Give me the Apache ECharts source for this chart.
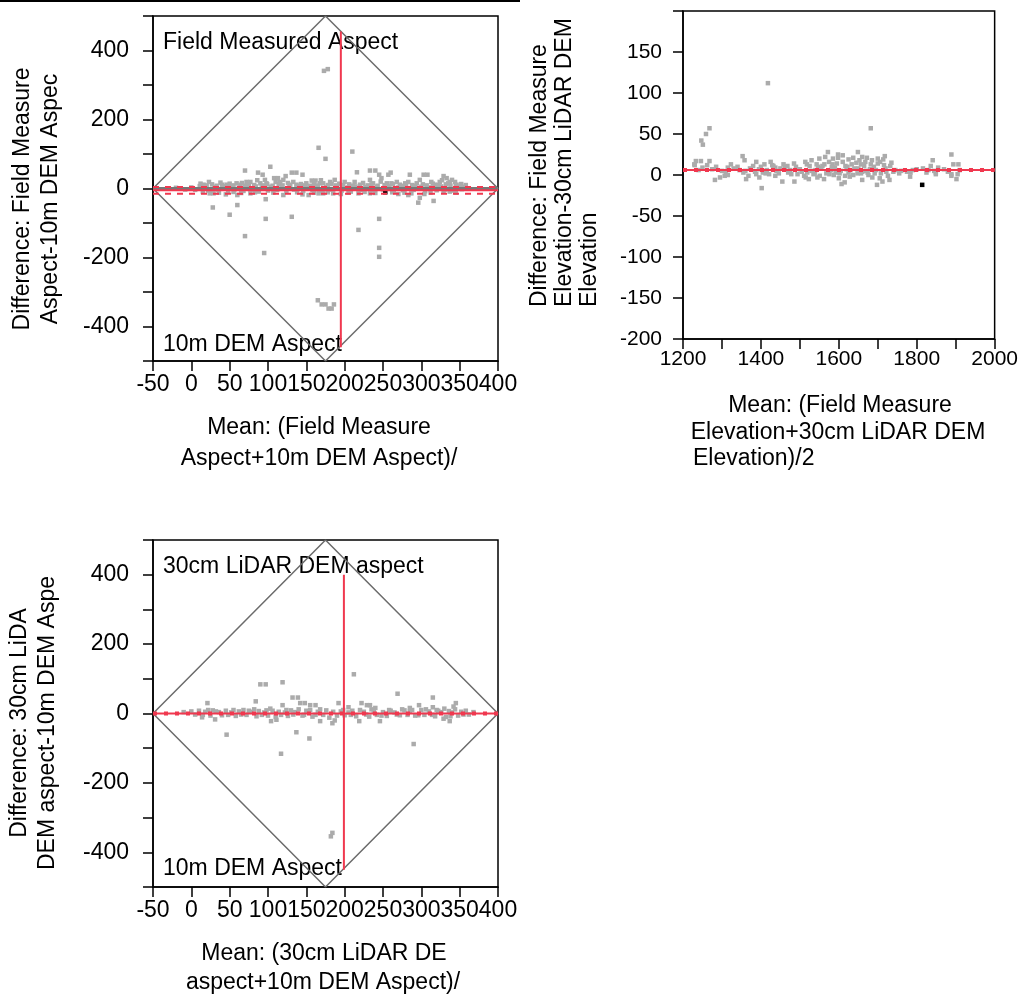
<!DOCTYPE html>
<html>
<head>
<meta charset="utf-8">
<title>Bland-Altman plots</title>
<script src="https://cdn.jsdelivr.net/npm/echarts@6/dist/echarts.min.js"></script>
<style>
    html, body { margin: 0; padding: 0; background: #fff; }
    #chart { width: 1021px; height: 999px; }
</style>
</head>
<body>
<div id="chart"></div>
<script>
    // --- data: [mean, difference] ---
    var fieldDemAspectPts = [
        [173,341],[178,346],[166,118],[175,86],[210,107],[70,52],[103,63],[216,47],[87,46],[93,40],
        [108,30],[113,30],[123,36],[131,46],[137,46],[145,40],[96,25],[98,15],[77,19],[72,19],
        [90,15],[23,19],[16,11],[11,7],[40,11],[46,11],[59,15],[64,11],[110,19],[116,19],
        [120,25],[129,11],[137,11],[150,15],[157,23],[162,23],[168,15],
        [233,52],[240,52],[245,40],[260,46],[257,40],[285,40],[303,40],[308,40],[248,30],
        [233,25],[237,15],[213,19],[200,19],[187,25],[181,19],[172,15],[255,15],[261,15],[268,19],
        [272,11],[283,19],[298,25],[294,15],[313,19],[318,11],[329,36],[333,30],[340,25],[344,19],
        [335,15],[346,11],[324,19],[355,5],[348,5],
        [24,-14],[29,-14],[28,-55],[50,-76],[60,-48],[60,-19],[77,-14],[97,-31],[97,-88],[70,-138],
        [95,-187],[131,-82],[120,-19],[153,-19],[166,-14],[218,-14],[233,-14],[185,-14],[172,-14],
        [283,-19],[287,-14],[298,-27],[296,-41],[316,-36],[329,-9],[337,-9],[218,-120],[245,-88],
        [245,-172],[245,-198],[165,-324],[170,-336],[175,-336],[179,-348],[183,-348],[186,-336],
        [0,3],[5,-4],[18,2],[22,-6],[30,4],[35,-3],[42,5],[48,-8],[52,3],[56,-5],[62,2],[68,-7],
        [74,4],[80,-3],[84,6],[88,-9],[92,3],[100,-6],[104,5],[112,-4],[118,2],[124,-8],[128,4],
        [134,-3],[140,6],[146,-7],[152,3],[158,-5],[163,6],[170,-8],[176,4],[180,-3],[190,5],
        [196,-6],[204,3],[208,-9],[214,6],[222,-4],[227,4],[236,-6],[242,5],[250,-3],[258,6],
        [264,-7],[270,3],[276,-5],[280,7],[290,-4],[300,5],[305,-8],[310,3],[320,-5],[326,6],
        [331,-3],[338,8],[342,-6],[350,3],[353,-2],[358,10],[-20,2],[-8,-3],
        [12,14],[20,9],[27,12],[33,8],[38,17],[44,6],[50,14],[55,9],[66,16],[70,8],[75,12],[82,10],
        [86,24],[94,9],[99,12],[106,8],[114,12],[119,9],[126,16],[133,19],[139,8],[143,13],[148,9],
        [155,8],[160,12],[165,9],[169,24],[178,10],[183,13],[189,9],[193,14],[198,10],[206,12],
        [211,8],[220,11],[224,16],[230,9],[235,12],[243,8],[247,20],[252,10],[263,12],[275,8],
        [279,15],[288,10],[292,8],[302,12],[307,9],[315,14],[322,10],[327,24],[332,12],[337,19],
        [345,8],[352,13],[15,-10],[36,-12],[45,-17],[55,-10],[65,-13],[83,-11],[107,-12],[138,-11],
        [145,-17],[160,-12],[178,-11],[195,-16],[205,-12],[226,-10],[240,-13],[262,-11],[270,-16],
        [278,-12],[304,-16],[312,-12],[345,-12]
    ];
    var fieldDemAspectFlag = [[253,-11]];
    var fieldDemAspectBias = -5;
    var fieldDemAspectLimits = [4, -15];
    var fieldDemAspectVertical = [195, -460, 455];

    var elevationPts = [
        [1418,112],[1268,57],[1259,50],[1247,42],[1251,37],[1682,57],[1233,17],[1246,17],[1230,12],
        [1268,17],[1353,23],[1358,18],[1572,28],[1598,25],[1598,21],[1649,28],[1672,21],[1718,23],
        [1714,19],[1706,16],[1889,25],[1841,18],[1637,21],[1229,13],[1262,12],[1323,13],[1315,9],
        [1388,16],[1380,11],[1409,13],[1425,16],[1429,12],[1437,9],[1458,13],[1462,9],[1514,16],
        [1518,13],[1543,13],[1547,10],[1563,13],[1575,16],[1584,13],[1617,11],[1633,13],[1645,15],
        [1657,13],[1665,11],[1682,13],[1690,10],[1732,11],[1735,15],[1784,3],[1816,8],[1836,11],
        [1845,5],[1849,3],[1907,13],[1894,13],[1849,1],[1889,1],[1905,1],
        [1402,-16],[1282,-6],[1295,-3],[1307,-1],[1315,0],[1362,-5],[1368,-1],[1455,-8],[1486,-8],
        [1523,-5],[1562,-5],[1607,-11],[1615,-9],[1698,-12],[1712,-8],[1686,-3],[1726,-1],[1783,-2],
        [1902,-5],[1889,-1],[1388,1],[1405,3],[1421,1],[1437,-1],[1470,3],[1494,1],[1511,-1],
        [1519,3],[1535,1],[1551,-1],[1576,1],[1592,3],[1616,-1],[1625,3],[1637,0],[1657,2],
        [1674,3],[1396,-3],[1360,5],
        [1240,6],[1275,7],[1300,5],[1330,8],[1345,6],[1395,7],[1415,6],[1440,5],[1450,8],[1475,6],
        [1500,7],[1530,5],[1555,8],[1580,6],[1590,9],[1605,5],[1620,7],[1630,6],[1650,8],[1670,5],
        [1680,7],[1695,6],[1720,8],[1745,6],[1760,5],[1800,7],[1830,6],[1870,7],[1910,6],
        [1250,9],[1285,10],[1310,4],[1340,10],[1355,3],[1372,8],[1385,4],[1400,10],[1412,2],[1432,11],
        [1446,2],[1468,11],[1478,1],[1490,10],[1505,4],[1525,11],[1538,2],[1558,11],[1568,2],[1582,10],
        [1587,0],[1595,14],[1602,2],[1610,16],[1622,10],[1628,-2],[1640,8],[1648,2],[1653,18],[1660,4],
        [1668,16],[1676,0],[1685,18],[1692,2],[1700,14],[1708,2],[1716,12],[1722,4],[1740,4],[1755,2],
        [1775,4],[1790,6],[1825,3],[1855,9],[1880,4],[1485,14],[1530,18],[1550,20],[1610,24],[1625,19],
        [1660,22],[1700,20],[1585,20],[1565,22],[1540,6],[1515,-3],[1545,-3],[1600,-4],[1660,-6],
        [1705,-4],[1730,-6]
    ];
    var elevationFlag = [[1814,-12]];
    var elevationBias = 6;

    var lidarDemAspectPts = [
        [212,113],[90,84],[97,84],[119,90],[132,46],[139,46],[84,35],[269,57],[315,46],[21,30],
        [119,24],[142,30],[148,30],[155,24],[162,24],[192,30],[222,30],[229,24],[233,24],[297,24],
        [345,30],
        [46,-61],[137,-54],[154,-72],[117,-116],[290,-88],[104,-22],[111,-18],[184,-28],[187,-20],
        [168,-22],[14,-11],[31,-17],[219,-22],[246,-22],[337,-22],[329,-15],[182,-354],[184,-344],
        [-10,4],[5,-3],[10,8],[18,5],[25,-6],[28,9],[36,4],[40,-5],[45,8],[52,3],[58,-7],[62,6],
        [68,10],[72,-4],[78,5],[85,-8],[88,7],[95,3],[100,-6],[106,8],[110,-10],[114,5],[122,3],
        [126,-7],[130,9],[135,4],[145,-6],[150,8],[158,-9],[165,5],[172,-4],[176,9],[180,-12],
        [195,6],[200,-5],[205,3],[210,8],[215,-8],[225,5],[232,-9],[238,7],[242,-4],[250,4],
        [255,-7],[260,8],[265,3],[272,-5],[278,9],[285,5],[292,-6],[300,10],[304,-4],[310,6],
        [318,-8],[322,8],[326,4],[332,-10],[336,7],[340,3],[348,-6],[352,5],[358,8],[362,-3],[368,4],
        [0,6],[15,-4],[22,10],[32,6],[48,-4],[55,10],[65,-3],[75,8],[82,12],[92,-4],[98,9],[103,14],
        [117,-4],[124,10],[133,-3],[140,12],[147,-4],[155,10],[162,-4],[168,12],[185,5],[190,-6],
        [198,10],[208,-4],[220,10],[228,-3],[235,12],[248,-6],[258,10],[268,-3],[275,12],[282,-4],
        [288,10],[296,-5],[306,12],[314,-4],[320,10],[330,14],[338,-8],[344,12],[355,-3],[342,20],
        [315,18],[285,16],[240,16],[205,18]
    ];
    var lidarDemAspectBias = 0;
    var lidarDemAspectVertical = [199, -450, 400];

    // aspect bound diamond
    var diamond = [[-50,0],[175,500],[400,0],[175,-500],[-50,0]];

    var FONT = "'Liberation Sans', Arial, sans-serif";
    var RED = '#f0384f';
    var GREY_PT = '#ababab';

    function ax(gi, min, max, interval, size, margin, fmt) {
        return {
            gridIndex: gi, type: 'value', min: min, max: max, interval: interval,
            axisLine: {show: true, onZero: false, lineStyle: {color: '#000', width: 1.5}},
            axisTick: {show: true, length: 10, lineStyle: {color: '#000', width: 1.5}},
            axisLabel: {fontSize: size, fontFamily: FONT, color: '#000', margin: margin, formatter: fmt},
            splitLine: {show: false}
        };
    }
    function dots(gi, pts, color, z) {
        return {
            type: 'scatter', xAxisIndex: gi, yAxisIndex: gi, data: pts,
            symbol: 'rect', symbolSize: 4.5, itemStyle: {color: color, opacity: 1},
            silent: true, z: z
        };
    }
    function refLine(gi, pts, color, width, type, z) {
        return {
            type: 'line', xAxisIndex: gi, yAxisIndex: gi, data: pts,
            symbol: 'none', showSymbol: false, silent: true, z: z,
            lineStyle: {color: color, width: width, type: type}
        };
    }
    function txt(x, y, text, align) {
        return {
            type: 'text', x: x, y: y, silent: true,
            style: {text: text, fill: '#000', font: '23px ' + FONT,
                align: align || 'left', verticalAlign: 'middle'}
        };
    }
    function vtxt(x, y, text, align, vAlign, lh) {
        return {
            type: 'text', x: x, y: y, rotation: Math.PI / 2, silent: true,
            style: {text: text, fill: '#000', font: '23px ' + FONT,
                align: align, verticalAlign: vAlign, lineHeight: lh}
        };
    }

    var aspectY = function (v) { return (v % 200 === 0 && Math.abs(v) < 500) ? v : ''; };
    var plain = function (v) { return v; };

    var chart = echarts.init(document.getElementById('chart'));
    chart.setOption({
        animation: false,
        backgroundColor: '#fff',
        grid: [
            {left: 153, top: 16, width: 345, height: 345, show: true, borderColor: '#000', borderWidth: 1.5},
            {left: 683, top: 11, width: 327, height: 328, show: true, borderColor: '#000', borderWidth: 1.5},
            {left: 153, top: 540, width: 345, height: 347, show: true, borderColor: '#000', borderWidth: 1.5}
        ],
        xAxis: [
            ax(0, -50, 400, 50, 23, 12, plain),
            ax(1, 1200, 2000, 100, 21, 10, function (v) { return v % 200 === 0 ? v : ''; }),
            ax(2, -50, 400, 50, 23, 12, plain)
        ],
        yAxis: [
            ax(0, -500, 500, 100, 23, 24, aspectY),
            ax(1, -200, 200, 50, 21, 21, function (v) { return v === 200 ? '' : v; }),
            ax(2, -500, 500, 100, 23, 24, aspectY)
        ],
        series: [
            // panel 1: field measured vs 10m DEM aspect
            dots(0, fieldDemAspectPts, GREY_PT, 2),
            dots(0, fieldDemAspectFlag, '#000', 3),
            refLine(0, diamond, '#6b6b6b', 1.5, 'solid', 4),
            refLine(0, [[-50,0],[400,0]], '#777', 3, 'solid', 5),
            refLine(0, [[-50,fieldDemAspectBias],[400,fieldDemAspectBias]], RED, 2, 'solid', 6),
            refLine(0, [[-50,fieldDemAspectLimits[0]],[400,fieldDemAspectLimits[0]]], RED, 2, [6, 6], 6),
            refLine(0, [[-50,fieldDemAspectLimits[1]],[400,fieldDemAspectLimits[1]]], RED, 2, [6, 6], 6),
            refLine(0, [[fieldDemAspectVertical[0],fieldDemAspectVertical[1]],[fieldDemAspectVertical[0],fieldDemAspectVertical[2]]], RED, 2, 'solid', 6),

            // panel 2: elevation
            dots(1, elevationPts, GREY_PT, 2),
            dots(1, elevationFlag, '#000', 3),
            refLine(1, [[1200,elevationBias],[2000,elevationBias]], RED, 2, 'solid', 6),
            refLine(1, [[1200,elevationBias],[2000,elevationBias]], RED, 4, [4, 7], 6),

            // panel 3: 30cm LiDAR vs 10m DEM aspect
            dots(2, lidarDemAspectPts, GREY_PT, 2),
            refLine(2, diamond, '#6b6b6b', 1.5, 'solid', 4),
            refLine(2, [[-50,lidarDemAspectBias],[400,lidarDemAspectBias]], RED, 2, 'solid', 6),
            refLine(2, [[-50,lidarDemAspectBias],[400,lidarDemAspectBias]], RED, 4, [4, 7], 6),
            refLine(2, [[lidarDemAspectVertical[0],lidarDemAspectVertical[1]],[lidarDemAspectVertical[0],lidarDemAspectVertical[2]]], RED, 2, 'solid', 6)
        ],
        graphic: [
            {type: 'line', silent: true, shape: {x1: 0, y1: 1, x2: 520, y2: 1}, style: {stroke: '#000', lineWidth: 2}},

            txt(163, 43, 'Field Measured Aspect'),
            txt(163, 345, '10m DEM Aspect'),
            txt(163, 567, '30cm LiDAR DEM aspect'),
            txt(163, 869, '10m DEM Aspect'),

            vtxt(37, 199, 'Difference: Field Measure\nAspect-10m DEM Aspec', 'center', 'middle', 28),
            vtxt(527, 307, 'Difference: Field Measure\nElevation-30cm LiDAR DEM\nElevation', 'left', 'top', 25),
            vtxt(34, 723, 'Difference: 30cm LiDA\nDEM aspect-10m DEM Aspe', 'center', 'middle', 28),

            txt(319, 428, 'Mean: (Field Measure', 'center'),
            txt(319, 459, 'Aspect+10m DEM Aspect)/', 'center'),
            txt(840, 406, 'Mean: (Field Measure', 'center'),
            txt(838, 433, 'Elevation+30cm LiDAR DEM', 'center'),
            txt(693, 459, 'Elevation)/2', 'left'),
            txt(324, 954, 'Mean: (30cm LiDAR DE', 'center'),
            txt(323, 983, 'aspect+10m DEM Aspect)/', 'center')
        ]
    });
</script>
</body>
</html>
